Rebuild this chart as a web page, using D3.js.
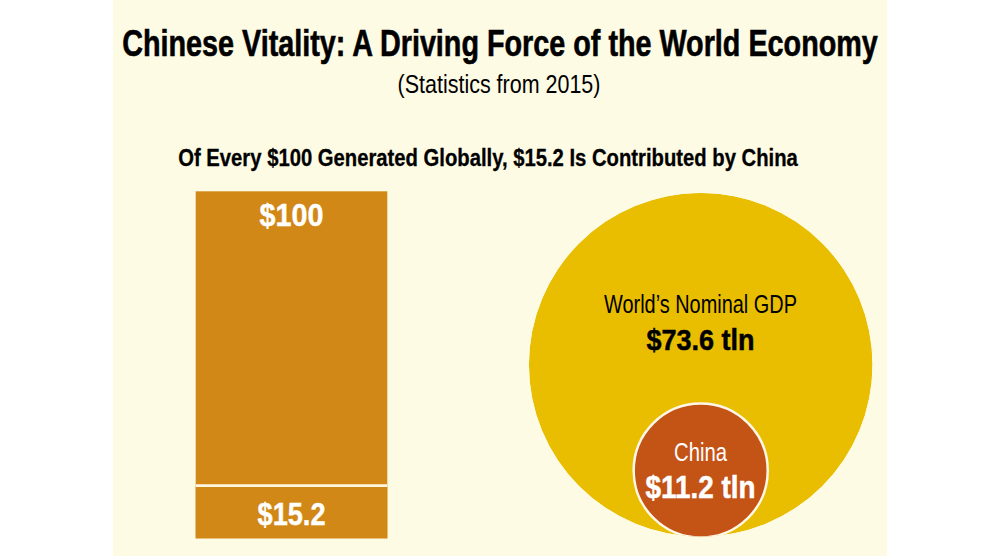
<!DOCTYPE html>
<html>
<head>
<meta charset="utf-8">
<script src="https://cdnjs.cloudflare.com/ajax/libs/d3/7.8.5/d3.min.js"></script>
<style>
  html, body { margin: 0; padding: 0; background: #fff; }
  svg { display: block; }
  text { font-family: "Liberation Sans Narrow", "Liberation Sans", sans-serif; text-anchor: middle; }
</style>
</head>
<body>
<script>
// values
const barLabels = ['$100', '$15.2']
const barValues = [100, 15.2]
const circleNames = ["World\u2019s Nominal GDP", 'China']
const circleLabels = ['$73.6 tln', '$11.2 tln']
const circleValues = [73.6, 11.2]

const w = 1000
const h = 556

const svg = d3.select('body').append('svg')
  .attr('width', w)
  .attr('height', h)

// cream panel
svg.append('rect')
  .attr('x', 113)
  .attr('y', 0)
  .attr('width', 774)
  .attr('height', h)
  .style('fill', '#fdfbe4')

// squeezes the text sideways until it is len wide
function label(txt, x, y, size, weight, len, color, thick) {
  const t = svg.append('text')
    .style('font-size', size + 'px')
    .style('font-weight', weight)
    .style('fill', color)
    .style('stroke', color)
    .style('stroke-width', thick)
    .text(txt)
  const sx = len / t.node().getComputedTextLength()
  t.attr('transform', `translate(${x},${y}) scale(${sx},1)`)
  return t
}

label('Chinese Vitality: A Driving Force of the World Economy', 500, 56, 37, 700, 756, '#000', 0.6)
label('(Statistics from 2015)', 499, 93, 25, 400, 203, '#000', 0)
label('Of Every $100 Generated Globally, $15.2 Is Contributed by China', 488, 166, 23, 700, 620, '#000', 0.3)

// stacked bar, the smaller value sits at the bottom of the total
const yBar = d3.scaleLinear().domain([0, 100]).range([538.3, 191.3])

svg.selectAll('.bar')
  .data(barValues)
  .enter()
  .append('rect')
  .attr('class', 'bar')
  .attr('x', 195.7)
  .attr('width', 191.6)
  .attr('y', (d) => yBar(d))
  .attr('height', (d) => yBar(0) - yBar(d))
  .style('fill', '#d18816')

// divider between the share and the rest
svg.append('line')
  .attr('x1', 195.7)
  .attr('x2', 387.3)
  .attr('y1', yBar(barValues[1]))
  .attr('y2', yBar(barValues[1]))
  .style('stroke', '#fff8e0')
  .style('stroke-width', 2.7)

label(barLabels[0], 291.5, 226, 31, 700, 64, '#fff', 0.4)
label(barLabels[1], 291.5, 525, 31, 700, 68, '#fff', 0.4)

// circles sized by area, the China ring gets cut by the edge of the world circle
const rScale = d3.scaleSqrt().domain([0, 73.6]).range([0, 171.8])
const cx = 700.7
const bottom = 536.5
const bigR = rScale(circleValues[0])

svg.append('clipPath')
  .attr('id', 'world-clip')
  .append('circle')
  .attr('cx', cx)
  .attr('cy', bottom - bigR)
  .attr('r', bigR)

svg.append('g')
  .attr('clip-path', 'url(#world-clip)')
  .selectAll('circle')
  .data(circleValues)
  .enter()
  .append('circle')
  .attr('cx', cx)
  .attr('cy', (d, i) => i === 0 ? bottom - bigR : bottom + 1 - rScale(d))
  .attr('r', (d) => rScale(d))
  .style('fill', (d, i) => i === 0 ? '#e9bd00' : '#c45316')
  .style('stroke', (d, i) => i === 0 ? 'none' : '#fff8e8')
  .style('stroke-width', 2.5)

label(circleNames[0], 700.5, 313, 25, 400, 193, '#000', 0)
label(circleLabels[0], 700.5, 350, 29, 700, 108, '#000', 0.5)
label(circleNames[1], 700.5, 461, 25, 400, 53, '#fff', 0)
label(circleLabels[1], 700.5, 498, 31, 700, 110, '#fff', 0.5)
</script>
</body>
</html>
